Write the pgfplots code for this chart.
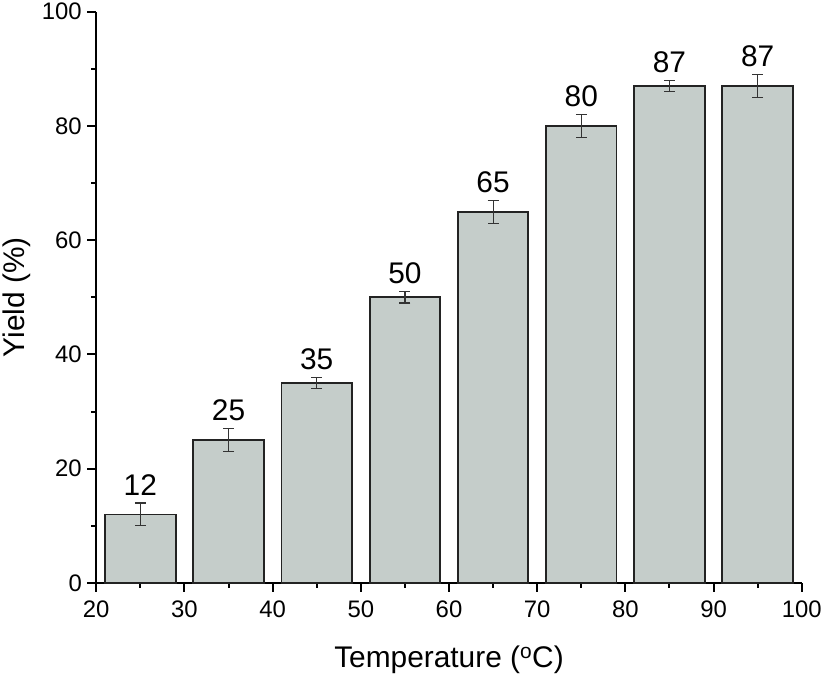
\documentclass[border=0pt]{standalone}
\usepackage{pgfplots}
\pgfplotsset{compat=1.18}
\usepackage{fontspec}
\setmainfont{Liberation Sans}
\definecolor{barfill}{RGB}{197,205,202}
\definecolor{baredge}{RGB}{35,35,35}
\begin{document}
\begin{tikzpicture}
\begin{axis}[
  scale only axis,
  width=709pt, height=574pt,
  xmin=20, xmax=100, ymin=0, ymax=100,
  xtick={20,30,...,100}, ytick={0,20,...,100},
  minor x tick num=1, minor y tick num=1,
  axis x line*=bottom, axis y line*=left,
  axis line style={line width=2pt, -},
  tick align=outside,
  major tick length=9pt, minor tick length=5pt,
  every tick/.style={line width=2pt, black},
  /pgf/number format/assume math mode=true,
  tick label style={font=\fontsize{24}{28}\selectfont},
  xticklabel style={yshift=-5pt},
  yticklabel style={xshift=-2pt},
  label style={font=\fontsize{30}{34}\selectfont},
  xlabel={Temperature (\textsuperscript{o}C)},
  ylabel={Yield (\%)},
  xlabel style={yshift=-22pt},
  ylabel style={yshift=4pt},
  clip=false,
]
\addplot[ybar, bar width=8, fill=barfill, draw=baredge, line width=1.8pt,
  error bars/.cd, y dir=both, y explicit,
  error bar style={line width=1.2pt, color=black!80},
  error mark options={line width=1.2pt, color=black!80, mark size=5.5pt, rotate=90}]
  table[x=x, y=y, y error=err] {
x y err
25 12 2
35 25 2
45 35 1
55 50 1
65 65 2
75 80 2
85 87 1
95 87 2
};
\addplot[draw=none, mark=none, nodes near coords, point meta=explicit symbolic,
  every node near coord/.append style={anchor=south, font=\fontsize{30}{34}\selectfont, yshift=4pt}]
  table[x=x, y expr=\thisrow{y}+\thisrow{err}, meta=y] {
x y err
25 12 2
35 25 2
45 35 1
55 50 1
65 65 2
75 80 2
85 87 1
95 87 2
};
\end{axis}
\end{tikzpicture}
\end{document}
